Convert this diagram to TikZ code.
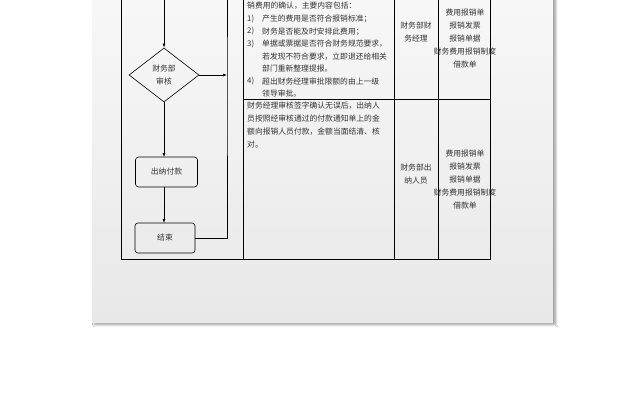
\documentclass[tikz,border=0pt]{standalone}
\usepackage{fontspec}
\setmainfont{Noto Sans CJK SC}
\usetikzlibrary{shapes.geometric,arrows.meta,shadows.blur}
\begin{document}
\begin{tikzpicture}[x=1pt,y=-1pt,
  every node/.style={font=\fontsize{7.8}{13}\selectfont,text=black!80},
  box/.style={draw,rounded corners=3pt,minimum width=62pt,minimum height=30pt,line width=0.6pt},
  dia/.style={draw,diamond,minimum width=70pt,minimum height=54pt,aspect=1.3,inner sep=0pt,line width=0.6pt},
  arr/.style={-{Latex[length=4pt,width=3pt]},line width=0.6pt},
  ln/.style={line width=0.6pt},
  tl/.style={anchor=west,inner sep=0pt,align=left},
  cc/.style={align=center,inner sep=0pt}]
\useasboundingbox (0,0) rectangle (640,407);
\fill[white] (0,0) rectangle (640,407);
\fill[black!35,blur shadow={shadow blur steps=10}] (92,-5) rectangle (553,322);
\shade[top color=black!3,bottom color=black!9] (92,-5) rectangle (553,322);
% table
\draw[ln] (121,-2) -- (121,259) -- (490,259) -- (490,-2);
\draw[ln] (243,-2) -- (243,259);
\draw[ln] (394,-2) -- (394,259);
\draw[ln] (438,-2) -- (438,259);
\draw[ln] (243,99) -- (490,99);
% flow
\coordinate (top) at (164,-2);
\node[dia,cc] (d) at (164,75) {财务部\\审核};
\node[box,cc] (p) at (166.5,172) {出纳付款};
\node[box,cc,minimum width=60pt] (e) at (165,238) {结束};
\coordinate (r) at (227,75);
\coordinate (rt) at (227,-2);
\draw[arr] (top) -- (d.north);
\draw[arr] (d.east) -- (r);
\draw[ln] (e.east) -| (r) -- (rt);
\draw[arr] (d.south) -- (164,157);
\draw[arr] (p.south -| 164,0) -- (164,223);
% text
\node[tl] (t1) at (247,6) {销费用的确认，主要内容包括：};
\node[tl] (n1) at (247,19) {1)};
\node[tl] (l1) at (262,19) {产生的费用是否符合报销标准；};
\node[tl] (n2) at (247,31.5) {2)};
\node[tl] (l2) at (262,31.5) {财务是否能及时安排此费用；};
\node[tl] (n3) at (247,44) {3)};
\node[tl] (l3) at (262,44) {单据或票据是否符合财务规范要求，};
\node[tl] (l4) at (262,56.5) {若发现不符合要求，立即退还给相关};
\node[tl] (l5) at (262,69) {部门重新整理提报。};
\node[tl] (n4) at (247,81.5) {4)};
\node[tl] (l6) at (262,81.5) {超出财务经理审批限额的由上一级};
\node[tl] (l7) at (262,94) {领导审批。};
\node[anchor=north west,inner sep=0pt,align=left] (t7) at (247,102) {财务经理审核签字确认无误后，出纳人\\员按照经审核通过的付款通知单上的金\\额向报销人员付款，金额当面结清、核\\对。};
\node[cc] (c1) at (416,32) {财务部财\\务经理};
\node[cc] (c2) at (416,174) {财务部出\\纳人员};
\node[cc] (d1) at (465,39) {费用报销单\\报销发票\\报销单据\\财务费用报销制度\\借款单};
\node[cc] (d2) at (465,180) {费用报销单\\报销发票\\报销单据\\财务费用报销制度\\借款单};
\end{tikzpicture}
\end{document}
